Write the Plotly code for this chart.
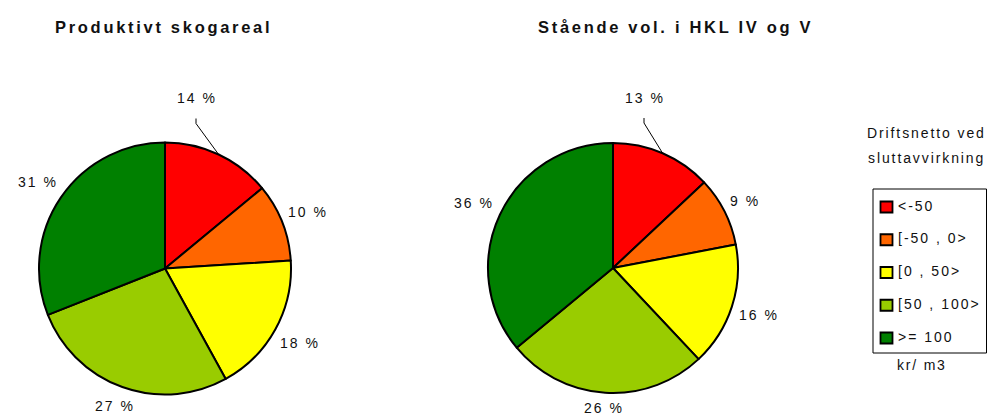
import math
import plotly.graph_objects as go

# ---------------- data ----------------
CATEGORIES = ["<-50", "[-50 , 0>", "[0 , 50>", "[50 , 100>", ">= 100"]
AREA_SHARE = [14, 10, 18, 27, 31]        # Produktivt skogareal (%)
VOLUME_SHARE = [13, 9, 16, 26, 36]       # Stående vol. i HKL IV og V (%)
PIE_TITLES = ["Produktivt skogareal", "Stående vol. i HKL IV og V"]
LEGEND_TITLE = ["Driftsnetto ved", "sluttavvirkning"]
UNIT_LABEL = "kr/ m3"
COLORS = ["#FF0000", "#FF6600", "#FFFF00", "#99CC00", "#008000"]

# ---------------- layout constants ----------------
W, H = 988, 417
FONT = "Liberation Sans, Arial, sans-serif"
TXT = "#111111"


def px(x):
    return x / W


def py(y):
    return 1 - y / H


def spaced(t, ls):
    return f'<span style="letter-spacing:{ls}px">{t}</span>'


PIES = [
    dict(values=AREA_SHARE, title=PIE_TITLES[0], cx=165, cy=268.5, r=126, title_x=163),
    dict(values=VOLUME_SHARE, title=PIE_TITLES[1], cx=613, cy=268, r=125, title_x=675),
]
TITLE_Y = 27

fig = go.Figure()
annotations = []
shapes = []

for p in PIES:
    cx, cy, r = p["cx"], p["cy"], p["r"]
    fig.add_trace(go.Pie(
        values=p["values"],
        labels=CATEGORIES,
        sort=False,
        direction="clockwise",
        rotation=0,
        marker=dict(colors=COLORS, line=dict(color="black", width=2)),
        textinfo="none",
        hoverinfo="label+percent",
        showlegend=False,
        domain=dict(x=[px(cx - r), px(cx + r)], y=[py(cy + r), py(cy - r)]),
    ))
    # title
    annotations.append(dict(
        x=px(p["title_x"]), y=py(TITLE_Y), xref="paper", yref="paper",
        text=spaced(f"<b>{p['title']}</b>", 2.7), showarrow=False,
        xanchor="center", yanchor="middle",
        font=dict(family=FONT, size=16.5, color=TXT),
    ))
    # slice labels
    total = sum(p["values"])
    cum = 0
    for i, v in enumerate(p["values"]):
        mid = (cum + v / 2) / total * 2 * math.pi
        cum += v
        dx, dy = math.sin(mid), -math.cos(mid)
        label = f"{v} %"
        if i == 0:
            lx, ly = cx + 32, cy - 170
            ex, ey = cx + r * dx, cy + r * dy
            shapes.append(dict(
                type="path", xref="paper", yref="paper",
                path=f"M{px(ex)},{py(ey)} L{px(lx - 1)},{py(ly + 25)} L{px(lx - 1)},{py(ly + 20)}",
                line=dict(color="black", width=1),
            ))
        else:
            w, h = 10 * len(label), 14
            ext = abs(dx) * w / 2 + abs(dy) * h / 2
            d = r + 7 + ext
            lx, ly = cx + dx * d, cy + dy * d
        annotations.append(dict(
            x=px(lx), y=py(ly), xref="paper", yref="paper",
            text=spaced(label, 2), showarrow=False,
            xanchor="center", yanchor="middle",
            font=dict(family=FONT, size=14, color=TXT),
        ))

# ---------------- legend (boxed, Excel style) ----------------
annotations.append(dict(x=px(926), y=py(133), xref="paper", yref="paper",
                        text=spaced(LEGEND_TITLE[0], 1.9), showarrow=False,
                        xanchor="center", yanchor="middle",
                        font=dict(family=FONT, size=14, color=TXT)))
annotations.append(dict(x=px(926), y=py(158), xref="paper", yref="paper",
                        text=spaced(LEGEND_TITLE[1], 1.9), showarrow=False,
                        xanchor="center", yanchor="middle",
                        font=dict(family=FONT, size=14, color=TXT)))
annotations.append(dict(x=px(922), y=py(365), xref="paper", yref="paper",
                        text=spaced(UNIT_LABEL, 1.8), showarrow=False,
                        xanchor="center", yanchor="middle",
                        font=dict(family=FONT, size=14, color=TXT)))
shapes.append(dict(type="rect", xref="paper", yref="paper",
                   x0=px(873), x1=px(986.5), y0=py(353), y1=py(189),
                   line=dict(color="black", width=1), fillcolor="rgba(0,0,0,0)"))
for i, (cat, col) in enumerate(zip(CATEGORIES, COLORS)):
    yc = 207 + i * 32.75
    shapes.append(dict(type="rect", xref="paper", yref="paper",
                       x0=px(880.5), x1=px(892.5), y0=py(yc + 5.5), y1=py(yc - 5.5),
                       line=dict(color="black", width=1.8), fillcolor=col))
    annotations.append(dict(x=px(896), y=py(yc - 1.5), xref="paper", yref="paper",
                            text=spaced(cat, 2), showarrow=False,
                            xanchor="left", yanchor="middle",
                            font=dict(family=FONT, size=14, color=TXT)))

fig.update_layout(
    width=W, height=H,
    margin=dict(l=0, r=0, t=0, b=0),
    paper_bgcolor="white", plot_bgcolor="white",
    annotations=annotations, shapes=shapes,
    showlegend=False,
)

fig.write_html(
    "out.html",
    config={"displayModeBar": False},
    post_script="document.body.style.margin='0';document.body.style.overflow='hidden';",
)
